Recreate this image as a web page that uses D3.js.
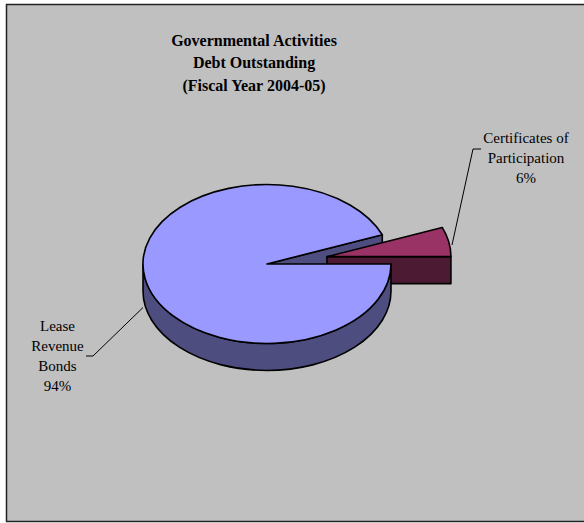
<!DOCTYPE html>
<html>
<head>
<meta charset="utf-8">
<script src="https://cdn.jsdelivr.net/npm/d3@7"></script>
<style>
  html, body { margin: 0; padding: 0; background: #ffffff; }
  svg { display: block; }
</style>
</head>
<body>
<script>
// ---- data ----
const categories = ["Lease Revenue Bonds", "Certificates of Participation"];
const values = [94, 6];
const percentLabels = ["94%", "6%"];
const titleLines = ["Governmental Activities", "Debt Outstanding", "(Fiscal Year 2004-05)"];

const W = 584, H = 523;
const svg = d3.select("body").append("svg").attr("width", W).attr("height", H);

// chart area
svg.append("rect").attr("x", 6.5).attr("y", 4.5).attr("width", 620).attr("height", 517)
  .attr("fill", "#c0c0c0").attr("stroke", "#222").attr("stroke-width", 1.5);

// title
const title = svg.append("text").attr("text-anchor", "middle")
  .attr("font-family", "'Liberation Serif', 'Times New Roman', serif")
  .attr("font-size", 16).attr("font-weight", "bold").attr("fill", "#000");
titleLines.forEach((t, i) => {
  title.append("tspan").attr("x", 254).attr("y", 45.5 + i * 22.5).text(t);
});

// pie geometry
const cx = 267, cy = 264, rx = 124, ry = 79.5, depth = 27, explode = 61;
const colorsTop = ["#9999ff", "#993366"];
const colorsSide = ["#4d4d80", "#4d1a33"];

const pie = d3.pie().sort(null).startAngle(Math.PI / 2).endAngle(Math.PI / 2 + 2 * Math.PI);
const arcs = pie(values);

function pt(a, ox, oy, dz) {
  return [ox + rx * Math.sin(a), oy - ry * Math.cos(a) + (dz || 0)];
}
function offsetFor(d, i) {
  if (i !== 1) return [cx, cy];
  const m = (d.startAngle + d.endAngle) / 2;
  return [cx + explode * Math.sin(m), cy - explode * (ry / rx) * Math.cos(m)];
}
function topPath(d, o) {
  const p0 = pt(d.startAngle, o[0], o[1]), p1 = pt(d.endAngle, o[0], o[1]);
  const large = (d.endAngle - d.startAngle) > Math.PI ? 1 : 0;
  return `M${o[0]},${o[1]}L${p0}A${rx},${ry} 0 ${large} 1 ${p1}Z`;
}
function sidePath(a0, a1, o) {
  const p0 = pt(a0, o[0], o[1]), p1 = pt(a1, o[0], o[1]);
  const q0 = pt(a0, o[0], o[1], depth), q1 = pt(a1, o[0], o[1], depth);
  const large = (a1 - a0) > Math.PI ? 1 : 0;
  return `M${p0}A${rx},${ry} 0 ${large} 1 ${p1}L${q1}A${rx},${ry} 0 ${large} 0 ${q0}Z`;
}
function cutPath(a, o) {
  const p = pt(a, o[0], o[1]);
  return `M${o[0]},${o[1]}L${p}L${p[0]},${p[1] + depth}L${o[0]},${o[1] + depth}Z`;
}
const strokeW = 1.6;
const g = svg.append("g").attr("stroke", "#000").attr("stroke-width", strokeW).attr("stroke-linejoin", "round");

// main slice cut face (visible at its start edge)
const main = arcs[0], small = arcs[1];
const oMain = offsetFor(main, 0), oSmall = offsetFor(small, 1);
const mainStartMod = ((main.endAngle % (2 * Math.PI)) + 2 * Math.PI) % (2 * Math.PI); // slice edge at gap
g.append("path").attr("d", cutPath(mainStartMod, oMain)).attr("fill", colorsSide[0]);

// exploded slice: cut face at its end edge (3 o'clock), then top
const smallEnd = small.endAngle - 2 * Math.PI;
const smallStart = small.startAngle - 2 * Math.PI;
g.append("path").attr("d", cutPath(smallEnd, oSmall)).attr("fill", colorsSide[1]);
g.append("path").attr("d", topPath({startAngle: smallStart, endAngle: smallEnd}, oSmall)).attr("fill", colorsTop[1]);

// main slice front side (from 3 o'clock around the bottom to 9 o'clock)
g.append("path").attr("d", sidePath(Math.max(main.startAngle, Math.PI / 2), Math.min(main.endAngle, 3 * Math.PI / 2), oMain))
  .attr("fill", colorsSide[0]);
g.append("path").attr("d", topPath(main, oMain)).attr("fill", colorsTop[0]);

// labels
const lab = svg.append("g").attr("font-family", "'Liberation Serif', 'Times New Roman', serif")
  .attr("font-size", 15).attr("fill", "#000").attr("text-anchor", "middle");
const leaderLines = [
  [[86, 356], [93, 356], [143, 307.5]],
  [[481, 149], [473, 149], [452, 245]]
];
const labelPos = [[57.5, 331], [526, 143]];
const labelLines = [
  ["Lease", "Revenue", "Bonds", percentLabels[0]],
  ["Certificates of", "Participation", percentLabels[1]]
];
const line = d3.line();
leaderLines.forEach(l => {
  svg.append("path").attr("d", line(l)).attr("fill", "none").attr("stroke", "#000").attr("stroke-width", 1);
});
labelLines.forEach((ls, i) => {
  const t = lab.append("text");
  ls.forEach((s, j) => t.append("tspan").attr("x", labelPos[i][0]).attr("y", labelPos[i][1] + j * 20).text(s));
});
</script>
</body>
</html>
